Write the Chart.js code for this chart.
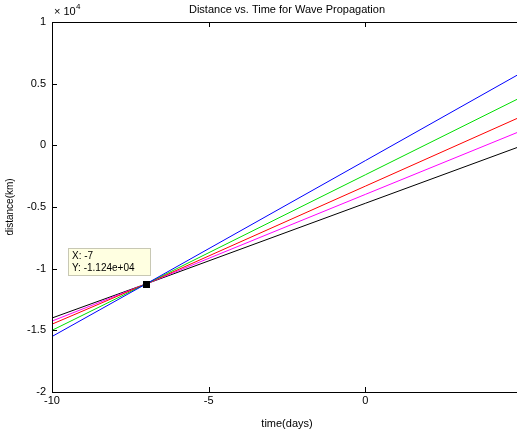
<!DOCTYPE html>
<html>
<head>
<meta charset="utf-8">
<script src="https://cdn.jsdelivr.net/npm/chart.js@4"></script>
<style>
  html, body { margin: 0; padding: 0; background: #fff; overflow: hidden; }
  #wrap { width: 524px; height: 431px; }
</style>
</head>
<body>
<div id="wrap"><canvas id="waveChart" width="524" height="431"></canvas></div>
<script>
// Data (distance in km, time in days)
const times = [-10, -7, 0, 5];
const blueKm = [-15500, -11240, -1240, 5910];
const greenKm = [-15000, -11240, -2390, 3930];
const redKm = [-14500, -11240, -3310, 2360];
const magentaKm = [-14250, -11240, -3980, 1200];
const blackKm = [-14000, -11240, -4700, -30];
const lineColors = ['#0000ff', '#00dd00', '#ff0000', '#ff00ff', '#000000'];
const tipPoint = { x: -7, y: -11240 };

const seriesList = [blueKm, greenKm, redKm, magentaKm, blackKm];
const font = 'Liberation Sans, Arial, sans-serif';

function toPoints(arr) {
    return arr.map((v, i) => ({ x: times[i], y: v }));
}

// Frame, inward ticks, title, exponent label and datatip
const matlabDecor = {
    id: 'matlabDecor',
    afterDatasetsDraw(chart) {
        const ctx = chart.ctx;
        const a = chart.chartArea;
        const xs = chart.scales.x;
        const ys = chart.scales.y;
        ctx.save();
        ctx.strokeStyle = '#000';
        ctx.lineWidth = 1;
        ctx.beginPath();
        ctx.rect(a.left + 0.5, a.top + 0.5, a.right - a.left, a.bottom - a.top);
        ctx.stroke();
        ctx.beginPath();
        xs.ticks.forEach(t => {
            const px = Math.round(xs.getPixelForValue(t.value)) + 0.5;
            ctx.moveTo(px, a.bottom); ctx.lineTo(px, a.bottom - 5);
            ctx.moveTo(px, a.top); ctx.lineTo(px, a.top + 5);
        });
        ys.ticks.forEach(t => {
            const py = Math.round(ys.getPixelForValue(t.value)) + 0.5;
            ctx.moveTo(a.left, py); ctx.lineTo(a.left + 5, py);
        });
        ctx.stroke();

        ctx.fillStyle = '#000';
        ctx.font = '11px ' + font;
        ctx.textAlign = 'center';
        ctx.textBaseline = 'middle';
        ctx.fillText('Distance vs. Time for Wave Propagation', (a.left + a.right) / 2, 10);
        ctx.textAlign = 'left';
        ctx.fillText('× 10', a.left + 2, 12);
        ctx.font = '8px ' + font;
        ctx.fillText('4', a.left + 24, 7);

        // datatip
        const mx = xs.getPixelForValue(tipPoint.x);
        const my = ys.getPixelForValue(tipPoint.y);
        ctx.fillStyle = '#000';
        ctx.fillRect(Math.round(mx) - 3, Math.round(my) - 3, 7, 7);
        const bx = Math.round(mx) - 78, by = Math.round(my) - 36;
        ctx.fillStyle = '#ffffe1';
        ctx.fillRect(bx, by, 82, 27);
        ctx.strokeStyle = '#c8c8b4';
        ctx.strokeRect(bx + 0.5, by + 0.5, 82, 27);
        ctx.fillStyle = '#000';
        ctx.font = '10px ' + font;
        ctx.fillText('X: -7', bx + 4, by + 8);
        ctx.fillText('Y: -1.124e+04', bx + 4, by + 20);
        ctx.restore();
    }
};

const ctxWave = document.getElementById('waveChart').getContext('2d');
const waveChart = new Chart(ctxWave, {
    type: 'line',
    data: {
        datasets: seriesList.map((s, i) => ({
            data: toPoints(s),
            borderColor: lineColors[i],
            borderWidth: 1,
            pointRadius: 0,
            tension: 0,
            fill: false
        }))
    },
    options: {
        responsive: false,
        animation: false,
        layout: { padding: { top: 22, right: 0, left: 0, bottom: 0 } },
        plugins: { legend: { display: false }, tooltip: { enabled: false } },
        scales: {
            x: {
                type: 'linear',
                min: -10,
                max: 5,
                grid: { display: false, drawTicks: false },
                border: { display: false },
                ticks: {
                    stepSize: 5,
                    padding: 2,
                    color: '#000',
                    font: { family: font, size: 11 },
                    callback: v => (v === 5 ? '' : String(v))
                },
                title: {
                    display: true,
                    text: 'time(days)',
                    color: '#000',
                    font: { family: font, size: 11 },
                    padding: { top: 1, bottom: 0 }
                },
                afterFit: s => { s.height = 39; }
            },
            y: {
                min: -20000,
                max: 10000,
                grid: { display: false, drawTicks: false },
                border: { display: false },
                ticks: {
                    stepSize: 5000,
                    padding: 6,
                    color: '#000',
                    font: { family: font, size: 11 },
                    callback: v => String(v / 10000)
                },
                title: {
                    display: true,
                    text: 'distance(km)',
                    color: '#000',
                    font: { family: font, size: 10 },
                    padding: { top: 4, bottom: 0 }
                },
                afterFit: s => { s.width = 52; }
            }
        }
    },
    plugins: [matlabDecor]
});
</script>
</body>
</html>
